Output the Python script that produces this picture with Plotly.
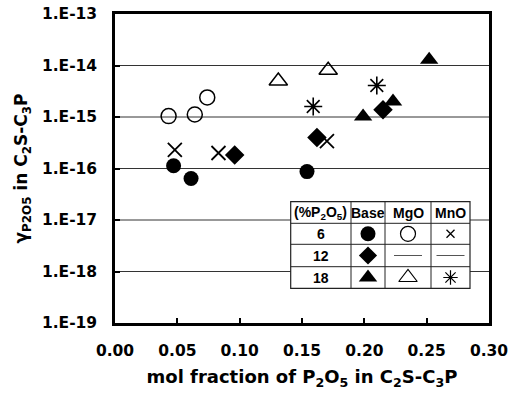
import math
import plotly.graph_objects as go

# ---- data (mol fraction P2O5, activity coefficient) ----
base_circle_x = [0.047, 0.061, 0.154]
base_circle_y = [1.13e-16, 6.4e-17, 8.7e-17]
base_diamond_x = [0.096, 0.162, 0.215]
base_diamond_y = [1.83e-16, 4.0e-16, 1.38e-15]
base_tri_x = [0.199, 0.223, 0.252]
base_tri_y = [1.02e-15, 2.0e-15, 1.3e-14]
mgo_circle_x = [0.043, 0.064, 0.074]
mgo_circle_y = [1.04e-15, 1.12e-15, 2.4e-15]
mgo_tri_x = [0.131, 0.171]
mgo_tri_y = [5.0e-15, 8.1e-15]
mno_x_x = [0.048, 0.083, 0.170]
mno_x_y = [2.3e-16, 2.0e-16, 3.4e-16]
mno_ast_x = [0.159, 0.210]
mno_ast_y = [1.6e-15, 4.1e-15]

y_tickvals = [1e-19, 1e-18, 1e-17, 1e-16, 1e-15, 1e-14, 1e-13]
y_ticktext = ["1.E-19", "1.E-18", "1.E-17", "1.E-16", "1.E-15", "1.E-14", "1.E-13"]
x_tickvals = [0.00, 0.05, 0.10, 0.15, 0.20, 0.25, 0.30]
x_ticktext = ["0.00", "0.05", "0.10", "0.15", "0.20", "0.25", "0.30"]

table_rows = ["6", "12", "18"]
table_cols = ["(%P<sub>2</sub>O<sub>5</sub>)", "Base", "MgO", "MnO"]

FONT = "DejaVu Sans, sans-serif"
TFONT = "Liberation Sans, Arial, sans-serif"
BLK = "black"
X_RANGE = [0, 0.30]
Y_RANGE = [-19, -13]

fig = go.Figure()

def add(x, y, symbol, size, lw=1.5):
    fig.add_trace(go.Scatter(
        x=x, y=y, mode="markers", showlegend=False,
        marker=dict(symbol=symbol, size=size, color=BLK,
                    line=dict(color=BLK, width=lw))))

add(base_circle_x, base_circle_y, "circle", 15, 0)
add(base_diamond_x, base_diamond_y, "diamond", 15, 0)
add(base_tri_x, base_tri_y, "triangle-up", 16, 0)
add(mgo_circle_x, mgo_circle_y, "circle-open", 15, 1.5)
add(mgo_tri_x, mgo_tri_y, "triangle-up-open", 16, 1.5)
add(mno_x_x, mno_x_y, "x-thin-open", 14, 1.8)
add(mno_ast_x, mno_ast_y, "asterisk-open", 15, 1.6)

XD, YD = "x domain", "y domain"

# gridlines at decades (drawn as shapes so the table can cover them)
for v in y_tickvals[1:-1]:
    d = (math.log10(v) - Y_RANGE[0]) / (Y_RANGE[1] - Y_RANGE[0])
    fig.add_shape(type="line", xref=XD, yref=YD, x0=0, x1=1, y0=d, y1=d,
                  line=dict(color="#333", width=1), layer="below")

# ---- legend table (plot-domain coords) ----
L, R, T, B = 115, 489, 14, 323
def px(xp): return (xp - L) / (R - L)
def py(yp): return (B - yp) / (B - T)
def dx(xp): return X_RANGE[0] + px(xp) * (X_RANGE[1] - X_RANGE[0])
def dy(yp): return 10 ** (Y_RANGE[0] + py(yp) * (Y_RANGE[1] - Y_RANGE[0]))

col_edges = [290.7, 351, 385, 431, 470]
row_edges = [201.7, 223.3, 244.3, 266.7, 288.3]

fig.add_shape(type="rect", xref=XD, yref=YD,
              x0=px(col_edges[0]), x1=px(col_edges[-1]),
              y0=py(row_edges[-1]), y1=py(row_edges[0]),
              fillcolor="white", line=dict(color="#222", width=1.2), layer="below")
for c in col_edges[1:-1]:
    fig.add_shape(type="line", xref=XD, yref=YD, x0=px(c), x1=px(c),
                  y0=py(row_edges[-1]), y1=py(row_edges[0]),
                  line=dict(color="#222", width=1), layer="below")
for r in row_edges[1:-1]:
    fig.add_shape(type="line", xref=XD, yref=YD, x0=px(col_edges[0]), x1=px(col_edges[-1]),
                  y0=py(r), y1=py(r), line=dict(color="#222", width=1), layer="below")

ccent = [(col_edges[i] + col_edges[i + 1]) / 2 for i in range(4)]
rcent = [(row_edges[i] + row_edges[i + 1]) / 2 for i in range(4)]
for i, t in enumerate(table_cols):
    fig.add_annotation(xref=XD, yref=YD, x=px(ccent[i]), y=py(rcent[0]), text=t,
                       xanchor="center", yanchor="middle", showarrow=False,
                       font=dict(family=TFONT, size=14, color=BLK, weight="bold"))
for j, t in enumerate(table_rows):
    fig.add_annotation(xref=XD, yref=YD, x=px(ccent[0]), y=py(rcent[j + 1]), text=t,
                       xanchor="center", yanchor="middle", showarrow=False,
                       font=dict(family=TFONT, size=14, color=BLK, weight="bold"))
for k in (2, 3):
    half = 14
    fig.add_shape(type="line", xref=XD, yref=YD,
                  x0=px(ccent[k] - half), x1=px(ccent[k] + half),
                  y0=py(rcent[2]), y1=py(rcent[2]),
                  line=dict(color="#555", width=1), layer="below")

add([dx(ccent[1])], [dy(rcent[1])], "circle", 15, 0)
add([dx(ccent[2])], [dy(rcent[1])], "circle-open", 15, 1.2)
add([dx(ccent[3])], [dy(rcent[1])], "x-thin-open", 8, 1.3)
add([dx(ccent[1])], [dy(rcent[2])], "diamond", 14, 0)
add([dx(ccent[1])], [dy(rcent[3])], "triangle-up", 16, 0)
add([dx(ccent[2])], [dy(rcent[3])], "triangle-up-open", 16, 1.2)
add([dx(ccent[3])], [dy(rcent[3])], "asterisk-open", 12, 1.2)

tickfont = dict(family=FONT, size=15.5, color=BLK, weight="bold")
titlefont = dict(family=FONT, size=18, color=BLK, weight="bold")

fig.update_layout(
    width=509, height=400,
    margin=dict(l=115, r=20, t=14, b=77),
    paper_bgcolor="white", plot_bgcolor="white",
    xaxis=dict(range=X_RANGE, tickvals=x_tickvals, ticktext=x_ticktext, automargin=False,
               showgrid=False, zeroline=False, showline=True, mirror=True,
               linecolor=BLK, linewidth=2.5, ticks="inside", ticklen=5, tickwidth=2,
               tickcolor=BLK, tickfont=tickfont, ticklabelstandoff=12,
               title=dict(text="mol fraction of P<sub>2</sub>O<sub>5</sub> in C<sub>2</sub>S-C<sub>3</sub>P",
                          font=titlefont, standoff=12)),
    yaxis=dict(type="log", range=Y_RANGE, tickvals=y_tickvals, ticktext=y_ticktext,
               automargin=False, showgrid=False, zeroline=False,
               showline=True, mirror=True, linecolor=BLK, linewidth=2.5,
               ticks="inside", ticklen=5, tickwidth=2, tickcolor=BLK, tickfont=tickfont,
               ticklabelstandoff=12,
               title=dict(text="γ<sub>P2O5</sub> in C<sub>2</sub>S-C<sub>3</sub>P",
                          font=dict(family=FONT, size=17, color=BLK, weight="bold"), standoff=10)),
)

fig.write_html("out.html")
